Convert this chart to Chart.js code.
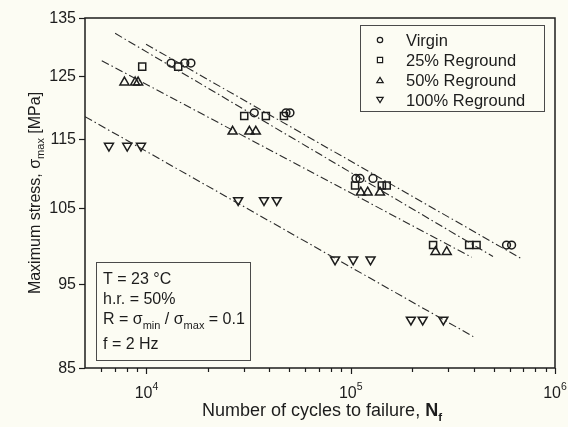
<!DOCTYPE html>
<html>
<head>
<meta charset="utf-8">
<title>S-N curves</title>
<script src="https://cdn.jsdelivr.net/npm/chart.js@4.4.1/dist/chart.umd.min.js"></script>
<style>
  html, body { margin: 0; padding: 0; background: #fcfcf3; }
  #wrap { width: 568px; height: 427px; }
</style>
</head>
<body>
<div id="wrap">
  <canvas id="snChart" width="568" height="427"></canvas>
</div>
<script>
// Fatigue test results: cycles to failure (N_f) and max stress (MPa)
const virginCycles = [13200, 15400, 16500, 33700, 48200, 50400, 106000, 111000, 128500, 579000, 613000];
const virginStress = [127.2, 127.2, 127.2, 119.1, 119.1, 119.1, 109.2, 109.2, 109.2, 100.0, 100.0];

const regrind25Cycles = [9530, 14300, 30100, 38400, 47100, 105000, 142000, 150000, 253000, 380000, 413000];
const regrind25Stress = [126.6, 126.6, 118.6, 118.6, 118.6, 108.2, 108.2, 108.2, 100.0, 100.0, 100.0];

const regrind50Cycles = [7800, 8800, 9100, 26400, 31900, 34300, 112000, 121000, 139000, 260000, 295000];
const regrind50Stress = [124.0, 124.0, 124.0, 116.2, 116.2, 116.2, 107.2, 107.2, 107.2, 99.1, 99.1];

const regrind100Cycles = [6550, 8050, 9400, 28100, 37600, 43400, 83800, 102800, 125000, 197000, 225000, 284000];
const regrind100Stress = [114.0, 114.0, 114.0, 106.1, 106.1, 106.1, 98.1, 98.1, 98.1, 90.6, 90.6, 90.6];

// Basquin fit lines, start and end points
const virginFitCycles = [9950, 686000];
const virginFitStress = [130.4, 98.2];
const regrind25FitCycles = [7020, 497000];
const regrind25FitStress = [132.3, 98.5];
const regrind50FitCycles = [6040, 391000];
const regrind50FitStress = [127.6, 98.4];
const regrind100FitCycles = [5000, 398000];
const regrind100FitStress = [118.5, 88.6];

const seriesNames = ['Virgin', '25% Reground', '50% Reground', '100% Reground'];
const stressTicks = [85, 95, 105, 115, 125, 135];
const cycleDecades = [4, 5, 6];
const testConditions = ['T = 23 °C', 'h.r. = 50%', 'R = σ_min / σ_max = 0.1', 'f = 2 Hz'];

const INK = '#1c1c1c';
const FONT = 'Arial, "Liberation Sans", sans-serif';

const toPoints = (xs, ys) => xs.map((x, i) => ({ x: x, y: ys[i] }));

const markerSet = (label, xs, ys, style, rot) => ({
  label: label,
  data: toPoints(xs, ys),
  pointStyle: style,
  rotation: rot || 0,
  pointRadius: style === 'rect' ? 5 : (style === 'circle' ? 3.9 : 5.2),
  pointBorderWidth: 1.5,
  pointBorderColor: INK,
  pointBackgroundColor: 'rgba(0,0,0,0)',
  showLine: false
});

const fitLine = (xs, ys) => ({
  label: 'fit',
  data: toPoints(xs, ys),
  showLine: true,
  pointRadius: 0,
  borderColor: '#2a2a2a',
  borderWidth: 1.1,
  borderDash: [8, 3, 1.5, 3]
});

// small helper to draw a marker shape outline
function strokeMarker(ctx, shape, cx, cy, r) {
  ctx.beginPath();
  if (shape === 'circle') {
    ctx.arc(cx, cy, r, 0, Math.PI * 2);
  } else if (shape === 'rect') {
    ctx.rect(cx - r, cy - r, 2 * r, 2 * r);
  } else {
    const dir = shape === 'up' ? 1 : -1;
    const h = r * 1.6;
    ctx.moveTo(cx, cy - dir * h / 2);
    ctx.lineTo(cx + r, cy + dir * h / 2);
    ctx.lineTo(cx - r, cy + dir * h / 2);
    ctx.closePath();
  }
  ctx.stroke();
}

// draws a run of [text, size, bold, baselineShift] pieces starting at x
function drawPieces(ctx, pieces, x, y) {
  pieces.forEach(p => {
    ctx.font = (p[2] ? 'bold ' : '') + p[1] + 'px ' + FONT;
    ctx.fillText(p[0], x, y + (p[3] || 0));
    x += ctx.measureText(p[0]).width;
  });
  return x;
}

function piecesWidth(ctx, pieces) {
  let w = 0;
  pieces.forEach(p => {
    ctx.font = (p[2] ? 'bold ' : '') + p[1] + 'px ' + FONT;
    w += ctx.measureText(p[0]).width;
  });
  return w;
}

const frameAndText = {
  id: 'frameAndText',
  afterDraw(chart) {
    const ctx = chart.ctx;
    const a = chart.chartArea;
    const xs = chart.scales.x;
    const ys = chart.scales.y;
    ctx.save();
    ctx.fillStyle = INK;
    ctx.strokeStyle = INK;

    // plot frame
    ctx.lineWidth = 1.5;
    ctx.strokeRect(a.left, a.top, a.right - a.left, a.bottom - a.top);

    // x ticks, majors at decades, minors at 2..9
    ctx.lineWidth = 1.2;
    for (let k = 3; k <= 6; k++) {
      for (let m = 1; m <= 9; m++) {
        const v = m * Math.pow(10, k);
        if (v <= 5000 || v > 1e6) continue;
        const px = Math.round(xs.getPixelForValue(v)) + 0.5;
        ctx.beginPath();
        ctx.moveTo(px, a.bottom);
        ctx.lineTo(px, a.bottom + (m === 1 ? 6 : 4));
        ctx.stroke();
      }
    }

    // x tick labels 10^k
    ctx.textBaseline = 'alphabetic';
    ctx.textAlign = 'left';
    cycleDecades.forEach(k => {
      const px = xs.getPixelForValue(Math.pow(10, k));
      const pieces = [['10', 16, false, 0], [String(k), 10.5, false, -8]];
      const w = piecesWidth(ctx, pieces);
      drawPieces(ctx, pieces, px - w / 2, 397.5);
    });

    // y ticks and labels
    ctx.textAlign = 'right';
    ctx.textBaseline = 'middle';
    ctx.font = '16px ' + FONT;
    stressTicks.forEach(v => {
      const py = Math.round(ys.getPixelForValue(v)) + 0.5;
      ctx.beginPath();
      ctx.moveTo(a.left - 6, py);
      ctx.lineTo(a.left, py);
      ctx.stroke();
      ctx.fillText(String(v), a.left - 9, py);
    });

    // axis titles
    ctx.textAlign = 'left';
    ctx.textBaseline = 'alphabetic';
    const xTitle = [['Number of cycles to failure, ', 18, false, 0], ['N', 18, true, 0], ['f', 11.5, true, 5]];
    const xw = piecesWidth(ctx, xTitle);
    drawPieces(ctx, xTitle, (a.left + a.right) / 2 - xw / 2 + 2, 416);

    const yTitle = [['Maximum stress, σ', 16, false, 0], ['max', 11, false, 4], [' [MPa]', 16, false, 0]];
    const yw = piecesWidth(ctx, yTitle);
    ctx.save();
    ctx.translate(40, (a.top + a.bottom) / 2);
    ctx.rotate(-Math.PI / 2);
    drawPieces(ctx, yTitle, -yw / 2, 0);
    ctx.restore();

    // legend box
    ctx.lineWidth = 1;
    ctx.strokeStyle = '#4a4a4a';
    ctx.strokeRect(360.5, 25.5, 184, 86);
    const shapes = ['circle', 'rect', 'up', 'down'];
    const sizes = [2.7, 2.6, 3.2, 3.2];
    ctx.strokeStyle = INK;
    ctx.lineWidth = 1.2;
    ctx.textBaseline = 'middle';
    seriesNames.forEach((name, i) => {
      const cy = 40 + i * 20;
      strokeMarker(ctx, shapes[i], 380, cy, sizes[i]);
      ctx.font = '16.5px ' + FONT;
      ctx.fillText(name, 406, cy + 1);
    });

    // test conditions box
    ctx.lineWidth = 1;
    ctx.strokeStyle = '#4a4a4a';
    ctx.strokeRect(96.5, 262.5, 154, 98);
    ctx.textBaseline = 'alphabetic';
    const rowY = [284, 304, 324, 349];
    testConditions.forEach((line, i) => {
      if (line.indexOf('_') >= 0) {
        const pieces = [['R = σ', 16, false, 0], ['min', 11, false, 5], [' / σ', 16, false, 0], ['max', 11, false, 5], [' = 0.1', 16, false, 0]];
        drawPieces(ctx, pieces, 103, rowY[i]);
      } else {
        drawPieces(ctx, [[line, 16, false, 0]], 103, rowY[i]);
      }
    });

    ctx.restore();
  }
};

const bgFill = {
  id: 'bgFill',
  beforeDraw(chart) {
    const ctx = chart.ctx;
    ctx.save();
    ctx.fillStyle = '#fcfcf3';
    ctx.fillRect(0, 0, chart.width, chart.height);
    ctx.restore();
  }
};

const ctx = document.getElementById('snChart');
new Chart(ctx, {
  type: 'scatter',
  data: {
    datasets: [
      fitLine(virginFitCycles, virginFitStress),
      fitLine(regrind25FitCycles, regrind25FitStress),
      fitLine(regrind50FitCycles, regrind50FitStress),
      fitLine(regrind100FitCycles, regrind100FitStress),
      markerSet(seriesNames[0], virginCycles, virginStress, 'circle'),
      markerSet(seriesNames[1], regrind25Cycles, regrind25Stress, 'rect'),
      markerSet(seriesNames[2], regrind50Cycles, regrind50Stress, 'triangle'),
      markerSet(seriesNames[3], regrind100Cycles, regrind100Stress, 'triangle', 180)
    ]
  },
  options: {
    responsive: false,
    animation: false,
    devicePixelRatio: 1,
    layout: { padding: { left: 85, top: 18, right: 13, bottom: 59 } },
    plugins: {
      legend: { display: false },
      tooltip: { enabled: false }
    },
    scales: {
      x: { type: 'logarithmic', min: 5000, max: 1000000, display: false },
      y: { type: 'logarithmic', min: 85, max: 135, display: false }
    }
  },
  plugins: [bgFill, frameAndText]
});
</script>
</body>
</html>
